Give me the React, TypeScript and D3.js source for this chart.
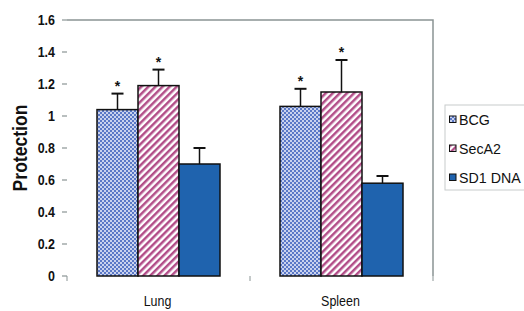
import React from "react";
import * as d3 from "d3";

const categories = ["Lung", "Spleen"];
const seriesNames = ["BCG", "SecA2", "SD1 DNA"];
const bcgValues = [1.04, 1.06];
const bcgErrors = [0.1, 0.11];
const secA2Values = [1.19, 1.15];
const secA2Errors = [0.1, 0.2];
const sd1Values = [0.7, 0.58];
const sd1Errors = [0.1, 0.045];
const significant = [[true, true, false], [true, true, false]];
const yTicks = [0, 0.2, 0.4, 0.6, 0.8, 1, 1.2, 1.4, 1.6];

const W = 524, H = 311;
const left = 67, right = 433, top = 20, bottom = 276;

export default function App() {
  const y = d3.scaleLinear().domain([0, 1.6]).range([bottom, top]);
  const x0 = d3.scaleBand().domain(categories).range([left, right]).paddingInner(0).paddingOuter(0);
  const groupPad = 30;
  const x1 = d3.scaleBand().domain(seriesNames).range([0, x0.bandwidth() - 2 * groupPad]);
  const vals = [bcgValues, secA2Values, sd1Values];
  const errs = [bcgErrors, secA2Errors, sd1Errors];
  const fills = ["url(#pBCG)", "url(#pSec)", "#1f63ae"];
  const axisColor = "#8a9494";
  const font = "'Liberation Sans', Arial, sans-serif";
  const sx = 0.86;

  return (
    <svg width={W} height={H} style={{ display: "block", position: "absolute", left: 0, top: 0 }}>
      <defs>
        <pattern id="pBCG" width="4" height="4" patternUnits="userSpaceOnUse">
          <rect width="4" height="4" fill="#c9d2ee" />
          <rect width="2" height="2" fill="#5a78c6" />
          <rect x="2" y="2" width="2" height="2" fill="#5a78c6" />
        </pattern>
        <pattern id="pSec" width="5" height="5" patternUnits="userSpaceOnUse" patternTransform="rotate(45)">
          <rect width="5" height="5" fill="#ffffff" />
          <rect width="2.5" height="5" fill="#b24d88" />
        </pattern>
      </defs>
      <rect width={W} height={H} fill="#ffffff" />
      <path d={`M${left},${top}H${right}V${bottom}`} fill="none" stroke={axisColor} strokeWidth={1.5} />
      {yTicks.map((t) => (
        <g key={t}>
          <line x1={left - 5} x2={left} y1={y(t)} y2={y(t)} stroke={axisColor} strokeWidth={1.2} />
          <text transform={`translate(55,${y(t)}) scale(${sx},1)`} dy="0.36em" textAnchor="end" fontFamily={font} fontWeight="bold" fontSize={14.5} fill="#111">
            {String(t)}
          </text>
        </g>
      ))}
      {[left, left + x0.bandwidth(), right].map((xv, i) => (
        <line key={i} x1={xv} x2={xv} y1={bottom} y2={bottom + 5} stroke={axisColor} strokeWidth={1} />
      ))}
      {categories.map((c, ci) => (
        <g key={c}>
          {seriesNames.map((s, si) => {
            const bx = (x0(c) as number) + groupPad + (x1(s) as number);
            const bw = x1.bandwidth();
            const v = vals[si][ci];
            const e = errs[si][ci];
            const cx = bx + bw / 2;
            return (
              <g key={s}>
                <line x1={cx} x2={cx} y1={y(v)} y2={y(v + e)} stroke="#111" strokeWidth={1.5} />
                <line x1={cx - 6} x2={cx + 6} y1={y(v + e)} y2={y(v + e)} stroke="#111" strokeWidth={2} />
                <rect x={bx} y={y(v)} width={bw} height={bottom - y(v)} fill={fills[si]} stroke="#111" strokeWidth={1.5} />
                {significant[ci][si] && (
                  <text x={cx} y={y(v + e) - 3} textAnchor="middle" fontFamily={font} fontWeight="bold" fontSize={14} fill="#111">*</text>
                )}
              </g>
            );
          })}
          <text transform={`translate(${(x0(c) as number) + x0.bandwidth() / 2 - 1},306) scale(${sx},1)`} textAnchor="middle" fontFamily={font} fontSize={14.5} fill="#111">{c}</text>
        </g>
      ))}
      <text transform={`translate(27,148) rotate(-90) scale(0.9,1)`} textAnchor="middle" fontFamily={font} fontWeight="bold" fontSize={19.5} fill="#111">Protection</text>
      <rect x={445} y={105} width={85} height={85} fill="#ffffff" stroke="#c8cccc" strokeWidth={1} />
      {seriesNames.map((s, i) => (
        <g key={s}>
          <rect x={449.5} y={116 + i * 29} width={6.5} height={6.5} fill={fills[i]} stroke="#111" strokeWidth={1} />
          <text transform={`translate(459,${119.5 + i * 29}) scale(0.95,1)`} dy="0.36em" fontFamily={font} fontSize={15} fill="#111">{s}</text>
        </g>
      ))}
    </svg>
  );
}
